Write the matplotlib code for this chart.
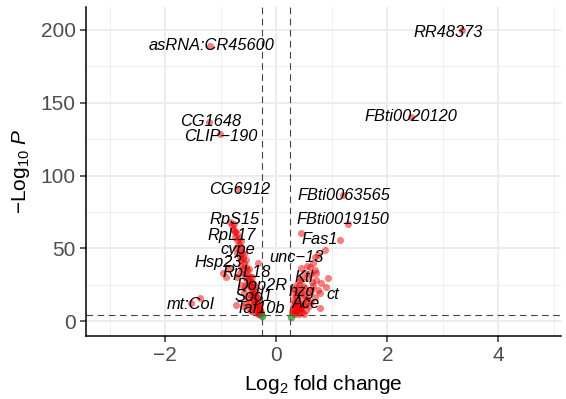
import matplotlib
matplotlib.use("Agg")
import matplotlib.pyplot as plt
import numpy as np

# Labelled genes: log2 fold change, -log10 p
genes = ["RR48373", "asRNA:CR45600", "FBti0020120", "CG1648", "CLIP\u2212190",
         "CG6912", "FBti0063565", "FBti0019150", "Fas1", "unc\u221213", "Ktl",
         "hzg", "ct", "Ace", "RpS15", "RpL17", "cype", "Hsp23", "RpL18",
         "Dop2R", "Sod1", "Taf10b", "mt:CoI"]
gene_fc = [3.34, -1.19, 2.42, -1.22, -1.02, -0.69, 1.20, 1.29, 1.14, 0.75,
           0.71, 0.51, 0.78, 0.42, -0.84, -0.75, -0.64, -0.97, -0.33, -0.42,
           -0.37, -0.28, -1.38]
gene_p = [200, 189, 140.4, 137, 128.3, 90.7, 86.6, 66.7, 55.7, 45.4, 33,
          22.7, 19, 7.6, 68, 61, 48.8, 32.8, 39.7, 26, 17, 6.2, 15.8]

# Other significant genes (red)
down_fc = [-0.80, -0.78, -0.74, -0.70, -0.68, -0.72, -0.65, -0.62, -0.66,
           -0.60, -0.58, -0.63, -0.55, -0.52, -0.57, -0.50, -0.47, -0.53,
           -0.45, -0.48, -0.42, -0.44, -0.40, -0.38, -0.42, -0.36, -0.34,
           -0.38, -0.32, -0.30, -0.35, -0.29, -0.33, -0.60, -0.72, -0.55,
           -0.50, -0.45, -0.40, -0.62, -0.58, -0.52, -0.47, -0.70, -0.85,
           -0.90, -0.31, -0.27, -1.53,
           -0.77, -0.74, -0.70, -0.67, -0.64, -0.70, -0.64, -0.61, -0.56,
           -0.50, -0.46, -0.43, -0.40, -0.37, -0.35, -0.32, -0.30, -0.33,
           -0.36, -0.39, -0.44, -0.49, -0.54, -0.58, -0.43, -0.48, -0.56,
           -0.66]
down_p = [66, 63, 58, 56, 53, 50, 51, 47, 44, 43, 40, 38, 37, 35, 33, 31, 30,
          28, 27, 24, 23, 20, 19, 17, 15, 14, 12, 10, 10, 8, 7, 6, 5, 10, 11,
          12, 9, 7, 6, 25, 20, 16, 13, 30, 36, 30, 4.6, 5.0, 12.2,
          67, 62, 60, 57, 55, 47, 42, 36, 30, 26, 22, 18, 14, 12, 9, 7, 12,
          16, 20, 24, 30, 36, 42, 46, 10, 18, 24, 33]
up_fc = [0.45, 0.87, 0.66, 0.60, 0.93, 0.90, 0.75, 0.30, 0.36, 0.42, 0.54,
         0.69, 0.69, 0.45, 0.63, 0.78, 0.30, 0.36, 0.33, 0.29, 0.38, 0.42,
         0.48, 0.52, 0.55, 0.48, 0.40, 0.46, 0.58, 0.62, 0.32, 0.36, 0.42,
         0.55, 0.65, 0.80, 0.50, 0.35, 0.31, 0.44,
         0.30, 0.33, 0.35, 0.38, 0.41, 0.45, 0.50, 0.55, 0.30, 0.38, 0.44,
         0.50, 0.56, 0.60, 0.66, 0.72, 0.34, 0.40, 0.46, 0.70, 0.62]
up_p = [60.5, 48.8, 39.7, 37.3, 29.3, 23.6, 21.3, 19, 12.2, 8.7, 7.6, 16.7,
        44.2, 36.2, 21.3, 8.7, 14.4, 8.7, 5, 6, 16, 20, 24, 18, 14, 11, 5, 6,
        10, 13, 22, 25, 28, 30, 27, 26, 4.8, 10, 8, 15,
        10, 13, 17, 21, 25, 29, 33, 38, 5.5, 7, 9, 12, 16, 20, 24, 28, 6.5,
        12, 19, 35, 32]

# Fold-change only (green)
fc_only_fc = [-0.25, 0.27]
fc_only_p = [3.6, 2.8]

fc_cut = 0.25
p_cut = -np.log10(5e-5)

# label offsets from their point, in pixels (right, down)
label_dx = [-13, 1, 0, 2, 1, 2, 1, -5, -20, -21, -12, -3, 13, 6, 5, -3, -3,
            -4, -11, 9, -2, -1, -9]
label_dy = [3, 0, 0, 0, 2, 0, 0, -4, 0, 3, 5, 4, 1, -6, -3, 3, -1, -11, 9,
            2, 0, -3, 6]

plt.rcParams["font.family"] = ["Liberation Sans", "DejaVu Sans"]
plt.rcParams["mathtext.fontset"] = "custom"
plt.rcParams["mathtext.rm"] = "Liberation Sans"
plt.rcParams["mathtext.it"] = "Liberation Sans:italic"

fig = plt.figure(figsize=(5.66, 3.99), dpi=100)
ax = fig.add_axes([86 / 566, 63 / 399, 475 / 566, 329 / 399])

ax.set_xlim(-3.43, 5.13)
ax.set_ylim(-10.3, 215.8)
ax.set_xticks([-2, 0, 2, 4])
ax.set_yticks([0, 50, 100, 150, 200])
ax.set_xticklabels(["\u22122", "0", "2", "4"])
ax.set_xticks([-3, -1, 1, 3, 5], minor=True)
ax.set_yticks([25, 75, 125, 175], minor=True)
ax.grid(which="major", color="#EBEBEB", lw=1.3, zorder=0)
ax.grid(which="minor", color="#EFEFEF", lw=0.7, zorder=0)
ax.set_axisbelow(True)
ax.tick_params(which="minor", length=0)
ax.tick_params(which="major", length=4.3, width=1.1, color="#333333",
               labelsize=15, labelcolor="#4D4D4D", pad=3)

for s in ["top", "right"]:
    ax.spines[s].set_visible(False)
for s in ["left", "bottom"]:
    ax.spines[s].set_linewidth(1.1)
    ax.spines[s].set_color("black")

# threshold lines
for v in (-fc_cut, fc_cut):
    ax.axvline(v, color="#444444", lw=0.8, dashes=(6, 4), zorder=1)
ax.axhline(p_cut, color="#444444", lw=0.8, dashes=(6, 4), zorder=1)

red = "#EE0000"
ax.scatter(down_fc, down_p, s=26, color=red, alpha=0.5, lw=0, zorder=2)
ax.scatter(up_fc, up_p, s=26, color=red, alpha=0.5, lw=0, zorder=2)
ax.scatter(gene_fc, gene_p, s=26, color=red, alpha=0.5, lw=0, zorder=2)
ax.scatter(fc_only_fc, fc_only_p, s=30, color="#228B22", alpha=0.7, lw=0,
           zorder=3)

px2pt = 72 / fig.dpi
for name, x, y, dx, dy in zip(genes, gene_fc, gene_p, label_dx, label_dy):
    ax.annotate(name, (x, y), xytext=(dx * px2pt, -dy * px2pt),
                textcoords="offset points", ha="center", va="center",
                fontsize=11.8, style="italic", color="black", zorder=4)

ax.set_xlabel(r"$\mathrm{Log}_{2}$ fold change", fontsize=15, labelpad=6)
ax.set_ylabel(r"$-\mathrm{Log}_{10}\ \mathit{P}$", fontsize=15, labelpad=6)

fig.savefig("out.png", dpi=100)
